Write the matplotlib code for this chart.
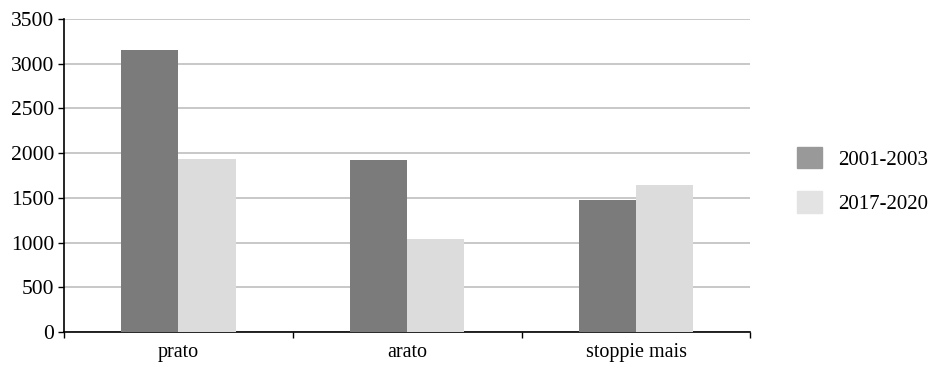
import numpy as np
import matplotlib.pyplot as plt
from matplotlib.patches import Patch

plt.rcParams['font.family'] = ['Liberation Serif', 'DejaVu Serif']

categories = ['prato', 'arato', 'stoppie mais']
series_names = ['2001-2003', '2017-2020']
values_2001 = [3150, 1920, 1480]
values_2017 = [1940, 1040, 1640]

dark = '#7b7b7b'
light = '#dcdcdc'

fig = plt.figure(figsize=(9.34, 3.66), dpi=100)
ax = fig.add_axes([0.0685, 0.093, 0.735, 0.855])

x = np.arange(len(categories)) + 0.5
w = 0.25
ax.bar(x - w / 2, values_2001, w, color=dark, zorder=3)
ax.bar(x + w / 2, values_2017, w, color=light, zorder=3)

ax.set_xlim(0, 3)
ax.set_ylim(0, 3500)
ax.set_yticks(np.arange(0, 3501, 500))
ax.yaxis.grid(True, color='#c4c4c4', linewidth=1.3, zorder=0)

# category boundaries get the tick marks, labels sit in the middle
ax.set_xticks([0, 1, 2, 3])
ax.set_xticklabels([])
ax.set_xticks(x, minor=True)
ax.set_xticklabels(categories, minor=True)
ax.tick_params(axis='x', which='minor', length=0, pad=8, labelsize=14.5)
ax.tick_params(axis='x', which='major', length=4, width=1, direction='out')
ax.tick_params(axis='y', length=4, width=1, direction='out', labelsize=15.5, pad=3)

for s in ['top', 'right']:
    ax.spines[s].set_visible(False)
ax.spines['left'].set_linewidth(1.2)
ax.spines['bottom'].set_linewidth(1.2)

handles = [Patch(color='#999999'), Patch(color='#e3e3e3')]
fig.legend(handles, series_names, loc='center left', bbox_to_anchor=(0.853, 0.507),
           frameon=False, fontsize=15, handlelength=1.2, handleheight=1.2,
           labelspacing=1.05, handletextpad=0.8, borderaxespad=0, borderpad=0)

fig.savefig('out.png', dpi=100)
